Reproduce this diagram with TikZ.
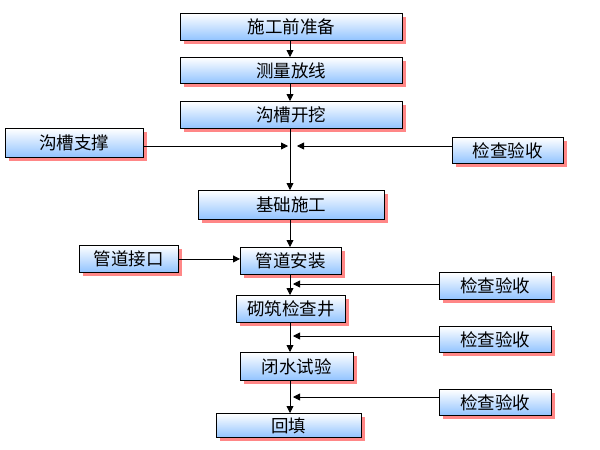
\documentclass[tikz,border=0pt]{standalone}
\usepackage{fontspec}
\newfontfamily\cjk{Noto Sans CJK SC}
\usetikzlibrary{arrows.meta,shadows}

\tikzset{
  flowbox/.style={draw=black, line width=0.9pt, anchor=north west, inner sep=0pt,
    top color=white, bottom color={rgb,255:red,145;green,195;blue,255},
    drop shadow={shadow xshift=4pt, shadow yshift=-4pt, opacity=1,
      fill={rgb,255:red,255;green,135;blue,135}},
    font=\cjk\fontsize{17.5}{19}\selectfont},
  flowline/.style={line width=0.8pt}
}

\begin{document}
\begin{tikzpicture}[x=1pt, y=-1pt, >={Triangle[length=7pt,width=7pt]}]
   \useasboundingbox (0,0) rectangle (600,450);
   \coordinate (m) at (290,0);
   \node (prep)   [flowbox, minimum width=222pt, minimum height=27pt] at (180,13)  {施工前准备};
   \node (survey) [flowbox, minimum width=222pt, minimum height=26pt] at (180,57)  {测量放线};
   \node (dig)    [flowbox, minimum width=222pt, minimum height=27pt] at (180,101) {沟槽开挖};
   \node (brace)  [flowbox, minimum width=138pt, minimum height=29pt] at (5,128)   {沟槽支撑};
   \node (chk1)   [flowbox, minimum width=111pt, minimum height=26pt] at (452,137) {检查验收};
   \node (base)   [flowbox, minimum width=186pt, minimum height=29pt] at (198,190) {基础施工};
   \node (joint)  [flowbox, minimum width=99pt,  minimum height=27pt] at (79,245)  {管道接口};
   \node (pipe)   [flowbox, minimum width=101pt, minimum height=27pt] at (240,247) {管道安装};
   \node (chk2)   [flowbox, minimum width=112pt, minimum height=27pt] at (439,272) {检查验收};
   \node (well)   [flowbox, minimum width=109pt, minimum height=27pt] at (236,295) {砌筑检查井};
   \node (chk3)   [flowbox, minimum width=112pt, minimum height=26pt] at (439,326) {检查验收};
   \node (test)   [flowbox, minimum width=113pt, minimum height=28pt] at (240,352) {闭水试验};
   \node (chk4)   [flowbox, minimum width=112pt, minimum height=26pt] at (439,389) {检查验收};
   \node (fill)   [flowbox, minimum width=145pt, minimum height=24pt] at (216,413) {回填};
   % side inputs meet the main line here
   \coordinate (j1) at (290,146);
   \coordinate (j2) at (290,284);
   \coordinate (j3) at (290,336);
   \coordinate (j4) at (290,397);
   \path[->, flowline]
     (prep.south -| m)   edge (survey.north -| m)
     (survey.south -| m) edge (dig.north -| m)
     (dig.south -| m)    edge (base.north -| m)
     (base.south -| m)   edge (pipe.north -| m)
     (pipe.south -| m)   edge (well.north -| m)
     (well.south -| m)   edge (test.north -| m)
     (test.south -| m)   edge (fill.north -| m);
   \path[->, flowline]
     (brace.east |- j1) edge [shorten >=2pt] (j1)
     (chk1.west |- j1)  edge ([xshift=7pt]j1)
     (joint.east)       edge (joint.east -| pipe.west)
     (chk2.west |- j2)  edge [shorten >=-3pt] ([xshift=6pt]j2)
     (chk3.west |- j3)  edge [shorten >=-3pt] ([xshift=6pt]j3)
     (chk4.west |- j4)  edge [shorten >=-3pt] ([xshift=6pt]j4);
\end{tikzpicture}
\end{document}
